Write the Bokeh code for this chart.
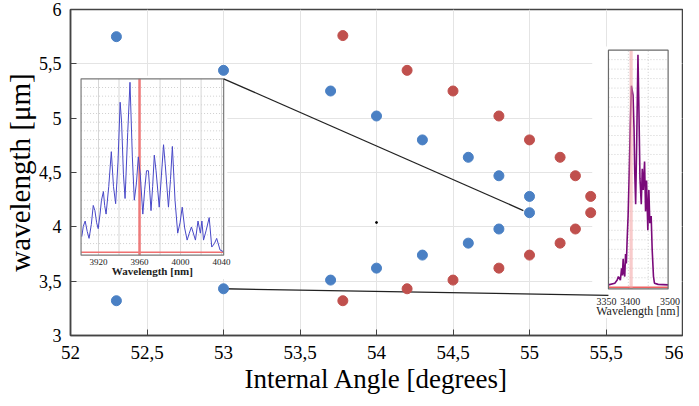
from bokeh.plotting import figure
from bokeh.models import Range1d, FixedTicker, CustomJSTickFormatter
from bokeh.embed import file_html
from bokeh.resources import INLINE
from bokeh.core.properties import value

# ---------------- data ----------------
blue_angle = [52.3, 53.0, 53.7, 54.0, 54.3, 54.6, 54.8, 55.0, 55.0, 54.8, 54.6, 54.3, 54.0, 53.7, 53.0, 52.3]
blue_wl = [5.75, 5.44, 5.25, 5.02, 4.80, 4.64, 4.47, 4.28, 4.13, 3.98, 3.85, 3.74, 3.62, 3.51, 3.43, 3.32]
red_angle = [53.78, 54.2, 54.5, 54.8, 55.0, 55.2, 55.3, 55.4, 55.4, 55.3, 55.2, 55.0, 54.8, 54.5, 54.2, 53.78]
red_wl = [5.76, 5.44, 5.25, 5.02, 4.80, 4.64, 4.47, 4.28, 4.13, 3.98, 3.85, 3.74, 3.62, 3.51, 3.43, 3.32]
stray_angle = [54.0]
stray_wl = [4.04]

x_ticks = [52, 52.5, 53, 53.5, 54, 54.5, 55, 55.5, 56]
y_ticks = [3, 3.5, 4, 4.5, 5, 5.5, 6]

# left inset spectrum (wavelength nm, relative intensity)
left_nm = [3903.7, 3905.2, 3907.0, 3909.0, 3910.8, 3913.0, 3914.9, 3916.5, 3918.2, 3919.7,
           3921.5, 3922.9, 3924.8, 3926.0, 3927.4, 3930.0, 3932.5, 3934.6, 3936.7, 3939.0,
           3941.1, 3942.5, 3944.3, 3945.9, 3948.5, 3950.7, 3953.0, 3954.9, 3957.0, 3958.8,
           3960.7, 3963.2, 3965.0, 3966.8, 3968.7, 3971.2, 3972.8, 3974.4, 3976.1, 3979.2,
           3981.3, 3983.4, 3985.0, 3988.2, 3990.2, 3992.0, 3994.6, 3997.2, 3999.5, 4001.6,
           4004.0, 4006.4, 4008.5, 4010.6, 4014.5, 4017.0, 4019.3, 4020.8, 4022.4, 4025.0,
           4027.9, 4030.4, 4033.0, 4035.2, 4038.5, 4041.6]
left_int = [0.09, 0.15, 0.18, 0.12, 0.08, 0.16, 0.27, 0.24, 0.17, 0.136,
            0.22, 0.30, 0.35, 0.27, 0.22, 0.38, 0.58, 0.38, 0.28, 0.52,
            0.865, 0.75, 0.45, 0.31, 0.69, 0.98, 0.55, 0.30, 0.40, 0.55,
            0.45, 0.22, 0.36, 0.47, 0.47, 0.24, 0.38, 0.56, 0.47, 0.26,
            0.44, 0.62, 0.51, 0.26, 0.42, 0.61, 0.30, 0.11, 0.17, 0.26,
            0.14, 0.07, 0.11, 0.146, 0.07, 0.18, 0.11, 0.18, 0.07, 0.127,
            0.20, 0.03, 0.05, 0.08, 0.013, 0.004]
left_marker_nm = [3960]
left_ticks = [3920, 3960, 4000, 4040]
left_vgrid = [3920, 3940, 3960, 3980, 4000, 4020, 4040]

# right inset spectrum
right_nm = [3350, 3366, 3372, 3375, 3380, 3383, 3385, 3387, 3389, 3391, 3393, 3395, 3397,
            3399.4, 3401.9, 3405, 3407.7, 3411.8, 3414.3, 3416, 3418.4, 3420.9, 3424.2,
            3426.7, 3429.2, 3432.5, 3435, 3437.5, 3440.8, 3443.3, 3445.8, 3449, 3451.6,
            3454, 3457.4, 3459.9, 3463.2, 3465.7, 3475, 3500]
right_int = [0.01, 0.017, 0.03, 0.045, 0.03, 0.08, 0.05, 0.12, 0.06, 0.045, 0.14, 0.10, 0.20,
             0.30, 0.46, 0.69, 0.85, 0.81, 0.67, 0.49, 0.35, 0.60, 0.98,
             0.74, 0.46, 0.35, 0.50, 0.41, 0.53, 0.32, 0.45, 0.24, 0.41,
             0.27, 0.30, 0.16, 0.045, 0.017, 0.012, 0.01]
right_band_nm = [3403, 3411]
right_ticks = [3350, 3400, 3500]
right_vgrid = [3400, 3450]

# ---------------- layout constants ----------------
X0, X1, Y0, Y1 = 52, 56, 3, 6
SERIF = "Liberation Serif"

# inset boxes expressed in main-axis units
L_BOX = dict(ax0=52.069, ax1=53.001, ay0=3.739, ay1=5.362, w0=3903, w1=4042, i0=-0.017, i1=1.0)
L_BG = dict(left=52.04, right=53.025, bottom=3.52, top=5.39)
L_TICK_Y, L_LABEL_Y = 3.675, 3.591
R_BOX = dict(ax0=55.516, ax1=55.906, ay0=3.429, ay1=5.626, w0=3350, w1=3500, i0=-0.007, i1=1.0)
R_BG = dict(left=55.41, right=55.99, bottom=3.16, top=5.66)
R_TICK_Y, R_LABEL_Y = 3.317, 3.226


def ranges_for(b):
    kx = (b["w1"] - b["w0"]) / (b["ax1"] - b["ax0"])
    ky = (b["i1"] - b["i0"]) / (b["ay1"] - b["ay0"])
    xr = Range1d(start=b["w0"] + (X0 - b["ax0"]) * kx, end=b["w0"] + (X1 - b["ax0"]) * kx)
    yr = Range1d(start=b["i0"] + (Y0 - b["ay0"]) * ky, end=b["i0"] + (Y1 - b["ay0"]) * ky)
    return xr, yr


p = figure(width=683, height=396, x_range=Range1d(X0, X1), y_range=Range1d(Y0, Y1),
           output_backend="svg", toolbar_location=None,
           min_border_left=60, min_border_right=1, min_border_top=9, min_border_bottom=60)
p.background_fill_color = "white"
p.border_fill_color = "white"
p.outline_line_color = "#444444"
p.outline_line_width = 1.5

lx, ly = ranges_for(L_BOX)
rx, ry = ranges_for(R_BOX)
p.extra_x_ranges = {"lx": lx, "rx": rx}
p.extra_y_ranges = {"ly": ly, "ry": ry}

fmt = CustomJSTickFormatter(code="return tick.toString().replace('.', ',');")
for ax, ticks, fs in ((p.xaxis[0], x_ticks, "19px"), (p.yaxis[0], y_ticks, "18px")):
    ax.ticker = FixedTicker(ticks=ticks)
    ax.formatter = fmt
    ax.major_label_text_font = SERIF
    ax.major_label_text_font_size = fs
    ax.major_label_text_color = "black"
    ax.axis_label_text_font = SERIF
    ax.axis_label_text_font_style = "normal"
    ax.axis_label_text_color = "black"
    ax.axis_line_color = "#444444"
    ax.axis_line_width = 1.5
    ax.major_tick_in = 6
    ax.major_tick_out = 0
    ax.major_tick_line_color = "#444444"
    ax.minor_tick_line_color = None

p.xaxis.axis_label = "Internal Angle [degrees]"
p.xaxis.axis_label_text_font_size = "27px"
p.xaxis.major_label_standoff = 10
p.xaxis.axis_label_standoff = 2
p.yaxis.axis_label = "wavelength [μm]"
p.yaxis.axis_label_text_font_size = "29px"
p.yaxis.major_label_standoff = 9
p.yaxis.axis_label_standoff = 0

p.xgrid.ticker = FixedTicker(ticks=x_ticks)
p.ygrid.ticker = FixedTicker(ticks=y_ticks)
p.grid.grid_line_color = "#e4e4e4"
p.grid.grid_line_width = 1

# ---------------- left inset ----------------
p.quad(left=[L_BG["left"]], right=[L_BG["right"]], bottom=[L_BG["bottom"]], top=[L_BG["top"]],
       fill_color="white", line_color=None)
l_hgrid = [round(0.05 * k, 2) for k in range(1, 20)]
p.segment(x0=[L_BOX["w0"]] * len(l_hgrid), x1=[L_BOX["w1"]] * len(l_hgrid), y0=l_hgrid, y1=l_hgrid,
          x_range_name="lx", y_range_name="ly", line_color="#c4c4c4", line_width=0.8, line_dash="1 2")
p.segment(x0=left_vgrid, x1=left_vgrid, y0=[L_BOX["i0"]] * len(left_vgrid), y1=[L_BOX["i1"]] * len(left_vgrid),
          x_range_name="lx", y_range_name="ly", line_color="#d6d6d6", line_width=1)
p.line(x=[L_BOX["w0"], L_BOX["w1"]], y=[0, 0], x_range_name="lx", y_range_name="ly",
       line_color="#f07070", line_width=1.5)
p.segment(x0=left_marker_nm, x1=left_marker_nm, y0=[L_BOX["i0"]], y1=[L_BOX["i1"]],
          x_range_name="lx", y_range_name="ly", line_color="#ee7a7a", line_width=2.5)
p.line(x=left_nm, y=left_int, x_range_name="lx", y_range_name="ly", line_color="#4848c8", line_width=1)
p.quad(left=[L_BOX["w0"]], right=[L_BOX["w1"]], bottom=[L_BOX["i0"]], top=[L_BOX["i1"]],
       x_range_name="lx", y_range_name="ly", fill_color=None, line_color="#7a7a7a", line_width=1.2)
p.text(x=left_ticks, y=[L_TICK_Y] * len(left_ticks), text=[str(t) for t in left_ticks],
       x_range_name="lx", text_font=value(SERIF), text_font_size="9px", text_color="#222222",
       text_align="center", text_baseline="middle")
p.text(x=[(L_BOX["w0"] + L_BOX["w1"]) / 2], y=[L_LABEL_Y], text=["Wavelength [nm]"],
       x_range_name="lx", text_font=value(SERIF), text_font_size="11px", text_color="#222222",
       text_font_style="bold", text_align="center", text_baseline="middle")

# ---------------- right inset ----------------
p.quad(left=[R_BG["left"]], right=[R_BG["right"]], bottom=[R_BG["bottom"]], top=[R_BG["top"]],
       fill_color="white", line_color=None)
r_hgrid = [round(0.04 * k, 2) for k in range(1, 25)]
p.segment(x0=[R_BOX["w0"]] * len(r_hgrid), x1=[R_BOX["w1"]] * len(r_hgrid), y0=r_hgrid, y1=r_hgrid,
          x_range_name="rx", y_range_name="ry", line_color="#c4c4c4", line_width=0.8, line_dash="1 2")
p.segment(x0=right_vgrid, x1=right_vgrid, y0=[R_BOX["i0"]] * len(right_vgrid), y1=[R_BOX["i1"]] * len(right_vgrid),
          x_range_name="rx", y_range_name="ry", line_color="#c4c4c4", line_width=0.8, line_dash="1 2")
p.line(x=[R_BOX["w0"], R_BOX["w1"]], y=[0, 0], x_range_name="rx", y_range_name="ry",
       line_color="#f06060", line_width=1.5)
p.line(x=right_nm, y=right_int, x_range_name="rx", y_range_name="ry", line_color="#7a0a7a", line_width=1.6)
p.quad(left=[right_band_nm[0]], right=[right_band_nm[1]], bottom=[R_BOX["i0"]], top=[R_BOX["i1"]],
       x_range_name="rx", y_range_name="ry", fill_color="#f2a0a0", fill_alpha=0.55, line_color=None)
p.quad(left=[R_BOX["w0"]], right=[R_BOX["w1"]], bottom=[R_BOX["i0"]], top=[R_BOX["i1"]],
       x_range_name="rx", y_range_name="ry", fill_color=None, line_color="#6a6a6a", line_width=1.2)
p.text(x=right_ticks, y=[R_TICK_Y] * len(right_ticks), text=[str(t) for t in right_ticks],
       x_range_name="rx", text_font=value(SERIF), text_font_size="10px", text_color="#222222",
       text_align="center", text_baseline="middle", x_offset=[-2, 2, 2])
p.text(x=[3424], y=[R_LABEL_Y], text=["Wavelength [nm]"],
       x_range_name="rx", text_font=value(SERIF), text_font_size="12px", text_color="#222222",
       text_align="center", text_baseline="middle")

# ---------------- connector lines & points ----------------
p.line(x=[L_BOX["ax1"], 54.96], y=[L_BOX["ay1"], 4.15], line_color="#222222", line_width=1.3)
p.line(x=[53.0, R_BOX["ax0"]], y=[3.43, 3.37], line_color="#222222", line_width=1.3)

p.scatter(blue_angle, blue_wl, size=10, fill_color="#4a80c4", line_color="#4a80c4")
p.scatter(red_angle, red_wl, size=10, fill_color="#c0504d", line_color="#c0504d")
p.scatter(stray_angle, stray_wl, size=2, fill_color="black", line_color="black")

open("out.html", "w").write(file_html(p, INLINE))
